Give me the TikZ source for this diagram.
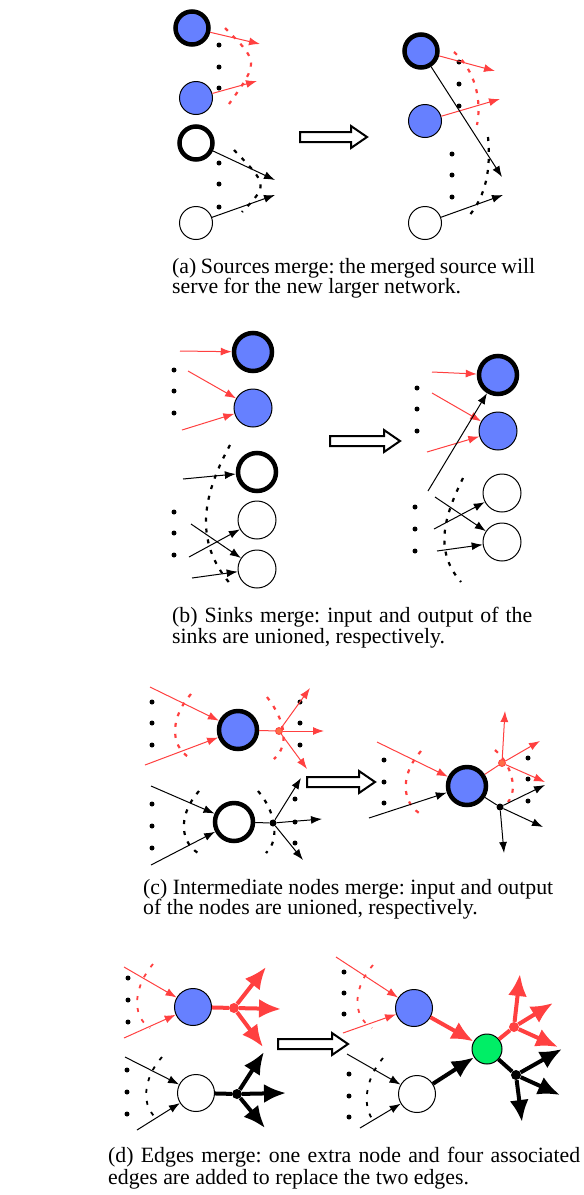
\documentclass[tikz,border=0pt]{standalone}
\usepackage{fontspec}
\setmainfont{Liberation Serif}
\usetikzlibrary{arrows.meta}
\definecolor{nblue}{RGB}{102,128,255}
\definecolor{nred}{RGB}{255,64,64}
\definecolor{ngreen}{RGB}{0,238,102}
\definecolor{norange}{RGB}{255,110,70}
\newcommand{\holarr}[3]{\draw[hollow] (#1,#3-5) -- (#2-16,#3-5) -- (#2-16,#3-11) -- (#2,#3) -- (#2-16,#3+11) -- (#2-16,#3+5) -- (#1,#3+5) -- cycle;}
\frenchspacing
\begin{document}
\begin{tikzpicture}[x=1pt,y=-1pt,
 nd/.style={circle,draw=black,inner sep=0pt,line width=1pt},
 thk/.style={line width=4.5pt},
 bl/.style={fill=nblue},
 wh/.style={fill=white},
 sa/.style={minimum size=33pt},
 sb/.style={minimum size=38pt},
 sd/.style={minimum size=37pt},
 dotn/.style={circle,fill=black,inner sep=0pt,minimum size=5pt},
 rsm/.style={circle,draw=nred,fill=norange,inner sep=0pt,minimum size=7pt,line width=0.8pt},
 ksm/.style={circle,fill=black,inner sep=0pt,minimum size=7pt},
 rbig/.style={circle,fill=nred,inner sep=0pt,minimum size=10pt},
 kbig/.style={circle,fill=black,inner sep=0pt,minimum size=10pt},
 arr/.style={-{Latex[length=11pt,width=8pt]},line width=1pt},
 rarr/.style={arr,nred},
 rln/.style={line width=1pt,nred},
 kln/.style={line width=1pt,black},
 darc/.style={line width=2.2pt,dash pattern=on 4pt off 7pt},
 rdarc/.style={darc,nred},
 ddarc/.style={line width=1.8pt,dash pattern=on 4pt off 8pt},
 rddarc/.style={ddarc,nred},
 bigarr/.style={-{Latex[length=22pt,width=19pt]},line width=4pt},
 rbigarr/.style={bigarr,nred},
 thkln/.style={line width=4pt},
 hollow/.style={draw=black,line width=2pt,fill=white,line join=miter},
 captxt/.style={inner sep=0pt,font=\fontsize{21.8}{22}\selectfont,anchor=base west}
]
\useasboundingbox (0,0) rectangle (584,1195);

% ================= (a) =================
\draw[rdarc] (225,28) .. controls (259,62) .. (229,104);
\draw[darc] (234,150) .. controls (268,185) .. (242,212);
\node[nd,thk,bl,sa] (A1) at (192,28) {};
\node[nd,bl,sa] (A2) at (196,98) {};
\node[nd,thk,wh,sa] (A3) at (196,143) {};
\node[nd,wh,sa] (A4) at (196,223) {};
\foreach \y [count=\i] in {45,67,88} \node[dotn] (aau\i) at (219,\y) {};
\foreach \y [count=\i] in {163,184,207} \node[dotn] (aal\i) at (219,\y) {};
\coordinate (a1t) at (260,44);
\coordinate (a2t) at (257,81);
\coordinate (a3t) at (275,180);
\coordinate (a4t) at (275,195);
\draw[rarr] (A1) -- (a1t);
\draw[rarr] (A2) -- (a2t);
\draw[arr] (A3) -- (a3t);
\draw[arr] (A4) -- (a4t);

\holarr{300}{367}{137}

\draw[rdarc] (454,52) .. controls (475,70) and (482,100) .. (477,125);
\draw[darc] (488,137) .. controls (491,170) and (486,195) .. (469,216);
\node[nd,thk,bl,sa] (B1) at (421,51) {};
\node[nd,bl,sa] (B2) at (425,121) {};
\node[nd,wh,sa] (B4) at (425,223) {};
\foreach \y [count=\i] in {62,84,106} \node[dotn] (abu\i) at (459,\y) {};
\foreach \y [count=\i] in {154,175,197} \node[dotn] (abl\i) at (452,\y) {};
\coordinate (b1t) at (495,71);
\coordinate (b2t) at (500,99);
\coordinate (b3t) at (502,177);
\coordinate (b4t) at (503,195);
\draw[rarr] (B1) -- (b1t);
\draw[rarr] (B2) -- (b2t);
\draw[arr] (B1) -- (b3t);
\draw[arr] (B4) -- (b4t);

\node[captxt] (capa1) at (172,273) {\makebox[363pt][s]{(a) Sources merge: the merged source will}};
\node[captxt] (capa2) at (172,293) {serve for the new larger network.};

% ================= (b) =================
\draw[darc] (230,445) .. controls (200,500) and (195,545) .. (233,587);
\node[nd,thk,bl,sb] (C1) at (253,352) {};
\node[nd,bl,sb] (C2) at (253,408) {};
\node[nd,thk,wh,sb] (C3) at (257,472) {};
\node[nd,wh,sb] (C4) at (257,520) {};
\node[nd,wh,sb] (C5) at (257,569) {};
\foreach \y [count=\i] in {370,391,413} \node[dotn] (bau\i) at (174,\y) {};
\foreach \y [count=\i] in {512,533,555} \node[dotn] (bal\i) at (174,\y) {};
\coordinate (c1s) at (180,351);
\coordinate (c2s) at (188,371);
\coordinate (c3s) at (182,430);
\coordinate (c4s) at (183,479);
\coordinate (c5s) at (189,557);
\coordinate (c6s) at (191,524);
\coordinate (c7s) at (192,578);
\draw[rarr] (c1s) -- (C1);
\draw[rarr] (c2s) -- (C2);
\draw[rarr] (c3s) -- (C2);
\draw[arr] (c4s) -- (C3);
\draw[arr] (c5s) -- (C4);
\draw[arr] (c6s) -- (C5);
\draw[arr] (c7s) -- (C5);

\holarr{330}{400}{441}

\draw[darc] (463,478) .. controls (445,515) and (433,550) .. (461,582);
\node[nd,thk,bl,sb] (D1) at (498,375) {};
\node[nd,bl,sb] (D2) at (498,431) {};
\node[nd,wh,sb] (D4) at (502,493) {};
\node[nd,wh,sb] (D5) at (502,542) {};
\foreach \y [count=\i] in {388,409,431} \node[dotn] (bbu\i) at (417,\y) {};
\foreach \y [count=\i] in {507,529,551} \node[dotn] (bbl\i) at (415,\y) {};
\coordinate (d1s) at (432,372);
\coordinate (d2s) at (432,393);
\coordinate (d3s) at (427,452);
\coordinate (d4s) at (428,491);
\coordinate (d5s) at (435,497);
\coordinate (d6s) at (434,529);
\coordinate (d7s) at (437,551);
\draw[rarr] (d1s) -- (D1);
\draw[rarr] (d2s) -- (D2);
\draw[rarr] (d3s) -- (D2);
\draw[arr] (d4s) -- (D1);
\draw[arr] (d5s) -- (D5);
\draw[arr] (d6s) -- (D4);
\draw[arr] (d7s) -- (D5);

\node[captxt] (capb1) at (172,622) {\makebox[360pt][s]{(b) Sinks merge: input and output of the}};
\node[captxt] (capb2) at (172,643) {sinks are unioned, respectively.};

% ================= (c) =================
\draw[rdarc] (191,694) .. controls (172,715) and (168,745) .. (190,758);
\draw[rdarc] (267,697) .. controls (285,720) and (290,745) .. (274,759);
\draw[darc] (199,791) .. controls (180,812) and (178,840) .. (198,853);
\draw[darc] (258,791) .. controls (276,812) and (280,840) .. (266,853);
\node[nd,thk,bl,sb] (E1) at (238,730) {};
\node[nd,thk,wh,sb] (E2) at (234,822) {};
\node[rsm] (R1) at (279,731) {};
\node[ksm] (K1) at (273,823) {};
\foreach \y [count=\i] in {702,723,745} \node[dotn] (cal\i) at (152,\y) {};
\foreach \y [count=\i] in {702,723,745} \node[dotn] (car\i) at (300,\y) {};
\foreach \y [count=\i] in {804,826,848} \node[dotn] (cbl\i) at (152,\y) {};
\foreach \y [count=\i] in {799,822,843} \node[dotn] (cbr\i) at (295,\y) {};
\coordinate (e1s) at (150,687);
\coordinate (e2s) at (145,765);
\coordinate (e3s) at (151,786);
\coordinate (e4s) at (151,865);
\coordinate (r1a) at (310,688);
\coordinate (r1b) at (324,731);
\coordinate (r1c) at (307,769);
\coordinate (k1a) at (301,778);
\coordinate (k1b) at (322,819);
\coordinate (k1c) at (303,860);
\draw[rarr] (e1s) -- (E1);
\draw[rarr] (e2s) -- (E1);
\draw[arr] (e3s) -- (E2);
\draw[arr] (e4s) -- (E2);
\draw[rln] (E1) -- (R1);
\draw[kln] (E2) -- (K1);
\draw[rarr] (R1) -- (r1a);
\draw[rarr] (R1) -- (r1b);
\draw[rarr] (R1) -- (r1c);
\draw[arr] (K1) -- (k1a);
\draw[arr] (K1) -- (k1b);
\draw[arr] (K1) -- (k1c);

\holarr{307}{375}{782}

\draw[rdarc] (421,751) .. controls (402,772) and (400,800) .. (419,813);
\draw[rdarc] (495,750) .. controls (512,765) and (518,790) .. (508,802);
\node[nd,thk,bl,sb] (F1) at (467,786) {};
\node[rsm] (R2) at (502,763) {};
\node[ksm] (K2) at (500,807) {};
\foreach \y [count=\i] in {760,782,803} \node[dotn] (cdl\i) at (384,\y) {};
\foreach \y [count=\i] in {758,779,801} \node[dotn] (cdr\i) at (528,\y) {};
\coordinate (f1s) at (377,742);
\coordinate (f2s) at (369,818);
\coordinate (r2a) at (505,711);
\coordinate (r2b) at (540,741);
\coordinate (r2c) at (545,782);
\coordinate (k2a) at (545,785);
\coordinate (k2b) at (543,827);
\coordinate (k2c) at (504,853);
\draw[rarr] (f1s) -- (F1);
\draw[arr] (f2s) -- (F1);
\draw[rln] (F1) -- (R2);
\draw[kln] (F1) -- (K2);
\draw[rarr] (R2) -- (r2a);
\draw[rarr] (R2) -- (r2b);
\draw[rarr] (R2) -- (r2c);
\draw[arr] (K2) -- (k2a);
\draw[arr] (K2) -- (k2b);
\draw[arr] (K2) -- (k2c);

\node[captxt] (capc1) at (143,894) {\makebox[410pt][s]{(c) Intermediate nodes merge: input and output}};
\node[captxt] (capc2) at (143,914) {of the nodes are unioned, respectively.};

% ================= (d) =================
\draw[rddarc] (153,964) .. controls (135,985) and (130,1015) .. (150,1028);
\draw[ddarc] (162,1057) .. controls (143,1078) and (140,1108) .. (159,1120);
\node[nd,bl,sd] (G1) at (193,1007) {};
\node[nd,wh,sd] (G2) at (196,1093) {};
\node[rbig] (RN) at (234,1008) {};
\node[kbig] (KN) at (237,1094) {};
\foreach \y [count=\i] in {978,1000,1022} \node[dotn] (dau\i) at (128,\y) {};
\foreach \y [count=\i] in {1070,1092,1114} \node[dotn] (dal\i) at (127,\y) {};
\coordinate (g1s) at (124,967);
\coordinate (g2s) at (124,1038);
\coordinate (g3s) at (125,1057);
\coordinate (g4s) at (137,1130);
\coordinate (rna) at (266,967);
\coordinate (rnb) at (281,1009);
\coordinate (rnc) at (263,1047);
\coordinate (kna) at (264,1052);
\coordinate (knb) at (286,1093);
\coordinate (knc) at (265,1128);
\draw[rarr] (g1s) -- (G1);
\draw[rarr] (g2s) -- (G1);
\draw[arr] (g3s) -- (G2);
\draw[arr] (g4s) -- (G2);
\draw[thkln,nred] (G1) -- (RN);
\draw[thkln] (G2) -- (KN);
\draw[rbigarr] (RN) -- (rna);
\draw[rbigarr] (RN) -- (rnb);
\draw[rbigarr] (RN) -- (rnc);
\draw[bigarr] (KN) -- (kna);
\draw[bigarr] (KN) -- (knb);
\draw[bigarr] (KN) -- (knc);

\holarr{278}{348}{1044}

\draw[rddarc] (373,965) .. controls (355,985) and (350,1015) .. (372,1028);
\draw[ddarc] (383,1058) .. controls (364,1080) and (362,1110) .. (375,1122);
\node[nd,bl,sd] (H1) at (414,1008) {};
\node[nd,wh,sd] (H2) at (417,1094) {};
\node[nd,fill=ngreen,minimum size=30pt] (GR) at (487,1049) {};
\node[rbig] (RN2) at (514,1027) {};
\node[kbig] (KN2) at (516,1075) {};
\foreach \y [count=\i] in {972,993,1014} \node[dotn] (dbu\i) at (344,\y) {};
\foreach \y [count=\i] in {1074,1096,1117} \node[dotn] (dbl\i) at (349,\y) {};
\coordinate (h1s) at (336,957);
\coordinate (h2s) at (343,1033);
\coordinate (h3s) at (347,1054);
\coordinate (h4s) at (360,1128);
\coordinate (rma) at (520,974);
\coordinate (rmb) at (553,1003);
\coordinate (rmc) at (558,1047);
\coordinate (kma) at (562,1049);
\coordinate (kmb) at (560,1095);
\coordinate (kmc) at (522,1122);
\draw[rarr] (h1s) -- (H1);
\draw[rarr] (h2s) -- (H1);
\draw[arr] (h3s) -- (H2);
\draw[arr] (h4s) -- (H2);
\draw[rbigarr] (H1) -- (GR);
\draw[bigarr] (H2) -- (GR);
\draw[thkln,nred] (GR) -- (RN2);
\draw[thkln] (GR) -- (KN2);
\draw[rbigarr] (RN2) -- (rma);
\draw[rbigarr] (RN2) -- (rmb);
\draw[rbigarr] (RN2) -- (rmc);
\draw[bigarr] (KN2) -- (kma);
\draw[bigarr] (KN2) -- (kmb);
\draw[bigarr] (KN2) -- (kmc);

\node[captxt] (capd1) at (108,1162) {\makebox[472pt][s]{(d) Edges merge: one extra node and four associated}};
\node[captxt] (capd2) at (108,1184) {edges are added to replace the two edges.};
\end{tikzpicture}
\end{document}
